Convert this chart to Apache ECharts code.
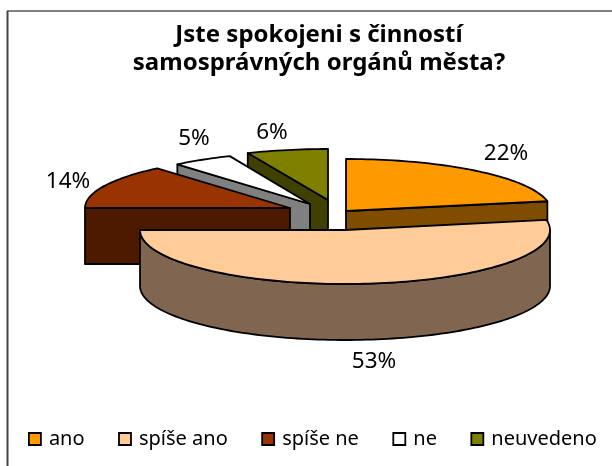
<!DOCTYPE html>
<html><head><meta charset="utf-8">
<style>html,body{margin:0;padding:0;background:#fff}#c{width:612px;height:466px}</style>
<script src="https://cdn.jsdelivr.net/npm/echarts@6/dist/echarts.min.js"></script>
</head><body><div id="c"></div>
<script>
const titleText = 'Jste spokojeni s činností\nsamosprávných orgánů města?';
const categories = ['ano', 'spíše ano', 'spíše ne', 'ne', 'neuvedeno'];
const values = [22, 53, 13.8, 4.8, 6.4];
const topColors = ['#FF9900', '#FFCC99', '#993300', '#FFFFFF', '#808000'];
const sideColors = ['#804D00', '#806650', '#4D1A00', '#808080', '#404000'];

// Layout of the pseudo-3D pie (exploded slice centres, label anchors, paint order)
const sliceCentres = [[346, 211], [345, 230], [290, 208], [310, 204], [328, 200]];
const sliceRadiiY = [52, 54, 52, 52, 51];
const labelAnchors = [[506, 154], [374, 362], [68, 182], [194, 139], [272, 133]];
const paintOrder = [4, 5, 3, 2, 1];
const RX = 205, DEPTH = 56, STROKE = 1.8, RAD = Math.PI / 180;

const total = values.reduce((a, b) => a + b, 0);
let running = 0;
const angles = values.map(v => { const s = running; running += v; return [s / total * 360, running / total * 360]; });

function arcPoints(c, ry, from, to, dy) {
  const pts = [], n = Math.max(2, Math.ceil((to - from) / 1.5));
  for (let i = 0; i <= n; i++) {
    const t = (from + (to - from) * i / n) * RAD;
    pts.push([c[0] + RX * Math.sin(t), c[1] + dy - ry * Math.cos(t)]);
  }
  return pts;
}
function poly(points, fill) {
  return { type: 'polygon', shape: { points }, style: { fill, stroke: '#000', lineWidth: STROKE, lineJoin: 'round' } };
}
function renderSlice(idx) {
  return function () {
    const [a, b] = angles[idx], c = sliceCentres[idx], ry = sliceRadiiY[idx];
    const side = sideColors[idx], children = [];
    const radial = ang => {
      const rim = arcPoints(c, ry, ang, ang, 0)[0];
      return poly([c, rim, [rim[0], rim[1] + DEPTH], [c[0], c[1] + DEPTH]], side);
    };
    if (Math.sin(a * RAD) < -1e-6) children.push(radial(a));
    if (Math.sin(b * RAD) > 1e-6) children.push(radial(b));
    const from = Math.max(a, 90), to = Math.min(b, 270);
    if (to > from) {
      children.push(poly(arcPoints(c, ry, from, to, 0).concat(arcPoints(c, ry, from, to, DEPTH).reverse()), side));
    }
    children.push(poly([c].concat(arcPoints(c, ry, a, b, 0)), topColors[idx]));
    children.push({
      type: 'text',
      style: {
        text: Math.round(values[idx] / total * 100) + '%',
        x: labelAnchors[idx][0], y: labelAnchors[idx][1],
        align: 'center', verticalAlign: 'middle',
        fill: '#000', font: '22.5px "Noto Sans"'
      }
    });
    return { type: 'group', children };
  };
}

const chart = echarts.init(document.getElementById('c'), null, { renderer: 'canvas' });
chart.setOption({
  animation: false,
  backgroundColor: '#fff',
  graphic: [
    { type: 'line', silent: true, shape: { x1: 7, y1: 11, x2: 612, y2: 11 }, style: { stroke: '#000', lineWidth: 1.2 } },
    { type: 'line', silent: true, shape: { x1: 7.5, y1: 11, x2: 7.5, y2: 466 }, style: { stroke: '#444', lineWidth: 2 } }
  ],
  title: {
    text: titleText, left: 314, top: 16, textAlign: 'center',
    textStyle: { fontFamily: 'Noto Sans', fontWeight: 'bold', fontSize: 24, lineHeight: 28, color: '#000' }
  },
  legend: {
    left: 23, top: 424, orient: 'horizontal', itemWidth: 12, itemHeight: 12, itemGap: 33.5, icon: 'rect',
    selectedMode: false, data: categories,
    itemStyle: { borderColor: '#000', borderWidth: 1.8 },
    textStyle: { fontFamily: 'Noto Sans', fontSize: 20, color: '#000', padding: [0, 0, 0, 3] }
  },
  series: categories.map((name, i) => ({
    type: 'custom', name, coordinateSystem: 'none', silent: true, z: paintOrder[i],
    itemStyle: { color: topColors[i] },
    data: [values[i]],
    renderItem: renderSlice(i)
  }))
});
</script></body></html>
